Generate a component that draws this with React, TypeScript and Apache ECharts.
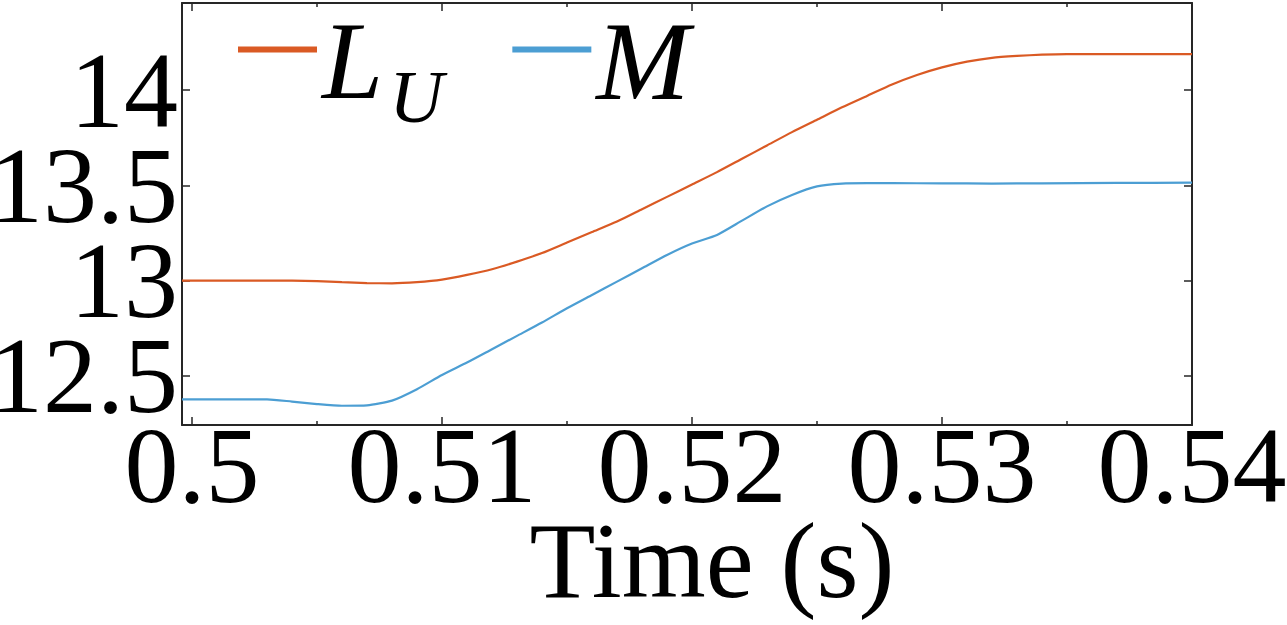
import React, { useEffect, useRef } from "react";
import * as echarts from "echarts";

const seriesNames = ["L_U", "M"];
const timeLU = [0.4996, 0.501, 0.502, 0.503, 0.504, 0.505, 0.506, 0.507, 0.508, 0.509, 0.51, 0.511, 0.512, 0.513, 0.514, 0.515, 0.516, 0.517, 0.518, 0.519, 0.52, 0.521, 0.522, 0.523, 0.524, 0.525, 0.526, 0.527, 0.528, 0.529, 0.53, 0.531, 0.532, 0.533, 0.534, 0.535, 0.537, 0.54];
const valueLU = [13.0, 13.0, 13.0, 13.0, 13.0, 12.998, 12.992, 12.987, 12.986, 12.992, 13.005, 13.03, 13.06, 13.1, 13.145, 13.2, 13.255, 13.31, 13.375, 13.44, 13.505, 13.57, 13.64, 13.71, 13.78, 13.845, 13.91, 13.97, 14.03, 14.08, 14.12, 14.15, 14.17, 14.18, 14.187, 14.19, 14.19, 14.19];
const timeM = [0.4996, 0.501, 0.502, 0.503, 0.504, 0.505, 0.506, 0.507, 0.508, 0.509, 0.51, 0.511, 0.512, 0.513, 0.514, 0.515, 0.516, 0.517, 0.518, 0.519, 0.52, 0.521, 0.522, 0.523, 0.524, 0.525, 0.526, 0.527, 0.528, 0.53, 0.532, 0.534, 0.537, 0.54];
const valueM = [12.377, 12.377, 12.377, 12.377, 12.365, 12.352, 12.343, 12.345, 12.37, 12.43, 12.505, 12.57, 12.64, 12.71, 12.78, 12.855, 12.925, 12.995, 13.065, 13.135, 13.195, 13.24, 13.315, 13.39, 13.45, 13.495, 13.51, 13.512, 13.512, 13.511, 13.51, 13.511, 13.513, 13.515];
const colors = ["#DA5A24", "#4C9ED3"];
const xName = "Time (s)";

const FONT = "Liberation Serif, serif";
const AX = "#262626";

export default function App() {
  const ref = useRef<HTMLDivElement>(null);
  useEffect(() => {
    if (!ref.current) return;
    const chart = echarts.init(ref.current, undefined, { renderer: "svg" });
    const xMin = 0.4996, xMax = 0.54, yMin = 12.242, yMax = 14.458;
    const axisCommon = {
      axisLine: { show: true, lineStyle: { color: AX, width: 2 } },
      splitLine: { show: false },
    };
    const tickStyle = { show: true, inside: true, length: 8, lineStyle: { color: AX, width: 1.5 } };
    chart.setOption({
      animation: false,
      backgroundColor: "#ffffff",
      textStyle: { fontFamily: FONT },
      grid: { left: 182, top: 3, width: 1010, height: 422, containLabel: false, outerBoundsMode: "none" },
      legend: {
        data: seriesNames,
        left: 238,
        top: -35,
        padding: 0,
        icon: "rect",
        itemWidth: 79,
        itemHeight: 6,
        itemGap: 69,
        selectedMode: false,
        formatter: (name: string) => (name === "L_U" ? "{l|L}{u|U}" : "{m|M}"),
        textStyle: {
          color: "#000",
          fontFamily: FONT,
          rich: {
            l: { fontFamily: FONT, fontStyle: "italic", fontSize: 110, lineHeight: 40, color: "#000", padding: [22, 0, 0, 0] },
            u: { fontFamily: FONT, fontStyle: "italic", fontSize: 75, lineHeight: 2, color: "#000", padding: [94, 0, 0, 6] },
            m: { fontFamily: FONT, fontStyle: "italic", fontSize: 112, lineHeight: 40, color: "#000", padding: [22, 0, 0, 0] },
          },
        },
      },
      xAxis: [
        {
          type: "value",
          min: xMin,
          max: xMax,
          position: "bottom",
          ...axisCommon,
          axisTick: tickStyle,
          minorTick: { show: true, splitNumber: 2, length: 4, lineStyle: { color: AX, width: 1.5 } },
          axisLabel: {
            show: true,
            showMinLabel: false,
            fontFamily: FONT,
            fontSize: 108,
            lineHeight: 70,
            color: "#000",
            margin: 5,
            formatter: (v: number) => String(Number(v.toFixed(3))),
          },
          name: xName,
          nameLocation: "middle",
          nameGap: 95,
          nameMoveOverlap: false,
          nameTextStyle: { fontFamily: FONT, fontSize: 108, lineHeight: 80, color: "#000", padding: [0, 0, 0, 50] },
        },
        {
          type: "value",
          min: xMin,
          max: xMax,
          position: "top",
          ...axisCommon,
          axisTick: tickStyle,
          minorTick: { show: true, splitNumber: 2, length: 4, lineStyle: { color: AX, width: 1.5 } },
          axisLabel: { show: false },
        },
      ],
      yAxis: [
        {
          type: "value",
          min: yMin,
          max: yMax,
          position: "left",
          ...axisCommon,
          axisTick: tickStyle,
          axisLabel: {
            show: true,
            showMinLabel: false,
            showMaxLabel: false,
            fontFamily: FONT,
            fontSize: 108,
            lineHeight: 76,
            color: "#000",
            margin: 4,
          },
        },
        {
          type: "value",
          min: yMin,
          max: yMax,
          position: "right",
          ...axisCommon,
          axisTick: tickStyle,
          axisLabel: { show: false },
        },
      ],
      series: [
        {
          name: seriesNames[0],
          type: "line",
          showSymbol: false,
          smooth: 0.2,
          color: colors[0],
          lineStyle: { width: 2.2, color: colors[0] },
          data: timeLU.map((t, i) => [t, valueLU[i]]),
        },
        {
          name: seriesNames[1],
          type: "line",
          showSymbol: false,
          smooth: 0.2,
          color: colors[1],
          lineStyle: { width: 2.2, color: colors[1] },
          data: timeM.map((t, i) => [t, valueM[i]]),
        },
      ],
    });
    return () => chart.dispose();
  }, []);
  return (
    <div
      ref={ref}
      style={{ position: "fixed", left: 0, top: 0, width: 1287, height: 625, background: "#fff" }}
    />
  );
}
